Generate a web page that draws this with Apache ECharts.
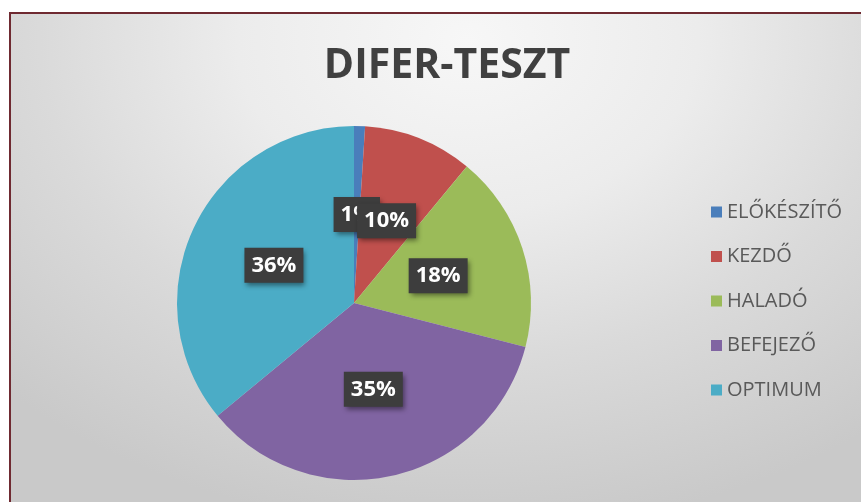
<!DOCTYPE html>
<html>
<head>
<meta charset="utf-8">
<script src="https://cdn.jsdelivr.net/npm/echarts@6/dist/echarts.min.js"></script>
<style>
  html, body { margin: 0; padding: 0; background: #ffffff; width: 861px; height: 502px; overflow: hidden; }
  #frame { position: absolute; left: 9px; top: 12px; width: 880px; height: 520px;
    border-left: 2px solid #6f2a31; border-top: 2px solid #6f2a31; box-sizing: border-box;
    background: radial-gradient(ellipse 75% 95% at 52% 5%, #f7f7f7 0%, #ececec 35%, #dadada 65%, #c9c9c9 100%); }
  #chart { position: absolute; left: 0; top: 0; width: 861px; height: 502px; }
</style>
</head>
<body>
<div id="frame"></div>
<div id="chart"></div>
<script>
const titleText = 'DIFER-TESZT';
const categories = ['ELŐKÉSZÍTŐ', 'KEZDŐ', 'HALADÓ', 'BEFEJEZŐ', 'OPTIMUM'];
const values = [1, 10, 18, 35, 36];
const colors = ['#4a7ebb', '#c0504d', '#9bbb59', '#8064a2', '#4bacc6'];

const chart = echarts.init(document.getElementById('chart'), null, { renderer: 'canvas' });
chart.setOption({
  backgroundColor: 'transparent',
  animation: false,
  title: {
    text: titleText,
    left: 442,
    textAlign: 'center',
    top: 36,
    textStyle: { fontFamily: 'Open Sans', fontWeight: 'bold', fontSize: 41, color: '#404040', lineHeight: 50 }
  },
  legend: {
    orient: 'vertical',
    left: 706,
    top: 195,
    itemWidth: 11,
    itemHeight: 11,
    itemGap: 20.5,
    icon: 'rect',
    selectedMode: false,
    data: categories,
    textStyle: { fontFamily: 'Open Sans', fontSize: 20, color: '#595959', lineHeight: 24 }
  },
  series: [{
    type: 'pie',
    center: [354, 303],
    radius: 177,
    startAngle: 90,
    clockwise: true,
    avoidLabelOverlap: false,
    labelLine: { show: false },
    itemStyle: { borderWidth: 0 },
    label: { show: false },
    emphasis: { disabled: true },
    data: categories.map((c, i) => ({ name: c, value: values[i], itemStyle: { color: colors[i] } }))
  }]
});

// Data labels placed at the middle of each sector, using the layout computed by ECharts
const pieData = chart.getModel().getSeriesByIndex(0).getData();
const total = values.reduce((a, b) => a + b, 0);
const labels = [];
for (let i = 0; i < pieData.count(); i++) {
  const L = pieData.getItemLayout(i);
  const mid = (L.startAngle + L.endAngle) / 2;
  const rr = (L.r + (L.r0 || 0)) / 2;
  labels.push({
    type: 'text',
    x: L.cx + rr * Math.cos(mid),
    y: L.cy + rr * Math.sin(mid),
    z: 100 + i,
    silent: true,
    style: {
      text: Math.round(values[i] / total * 100) + '%',
      fill: '#ffffff',
      font: 'bold 22px "Open Sans"',
      align: 'center',
      verticalAlign: 'middle',
      backgroundColor: '#3d3d3d',
      padding: [7, 7, 6, 7],
      shadowColor: 'rgba(0,0,0,0.45)',
      shadowBlur: 5,
      shadowOffsetX: 2,
      shadowOffsetY: 3
    }
  });
}
chart.setOption({ graphic: labels });
</script>
</body>
</html>
